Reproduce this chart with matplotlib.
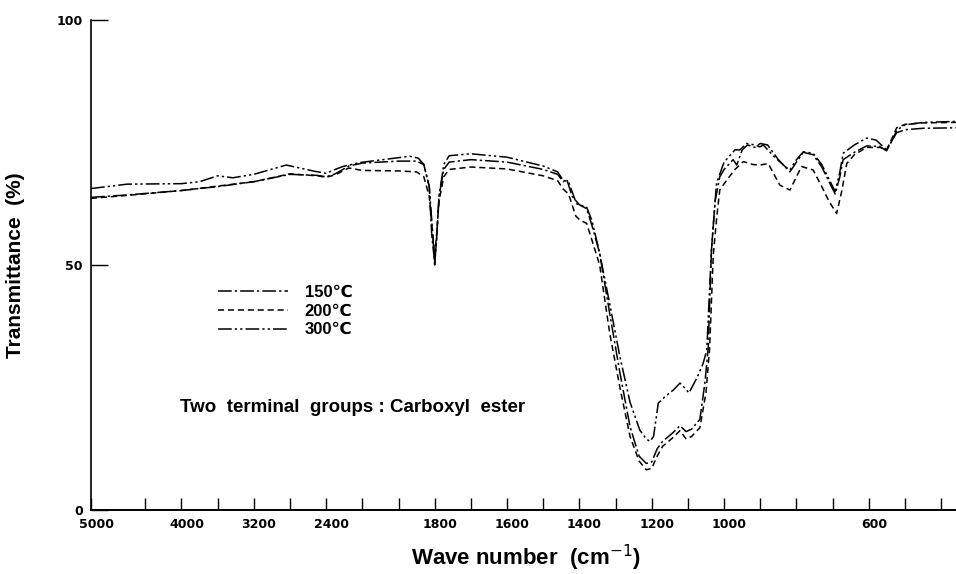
import numpy as np
import matplotlib
matplotlib.use("Agg")
import matplotlib.pyplot as plt
import matplotlib.transforms as mtransforms
from matplotlib.ticker import FixedLocator

# spectra: wave number (cm-1) / transmittance (%)
wn_150 = [5000, 4600, 4000, 3600, 3200, 2800, 2500, 2400, 2300, 2150, 2000, 1900,
          1850, 1830, 1815, 1808, 1800, 1795, 1788, 1775, 1760, 1700, 1600, 1500,
          1460, 1445, 1435, 1420, 1400, 1380, 1365, 1344, 1316, 1288, 1260, 1235,
          1215, 1200, 1185, 1170, 1141, 1122, 1105, 1090, 1067, 1053, 1044, 1035,
          1025, 1012, 1000, 975, 965, 950, 935, 915, 900, 880, 850, 818, 800, 781,
          754, 730, 710, 693, 680, 671, 640, 606, 570, 551, 535, 523, 500, 450, 359]
t_150 = [63.8, 64.3, 65.2, 66.0, 67.0, 68.5, 68.3, 68.0, 68.6, 70.2, 70.8, 71.2,
         71.2, 70.5, 66.0, 56.0, 50.5, 55.0, 64.0, 69.5, 71.0, 71.5, 71.0, 69.5,
         68.5, 67.0, 67.5, 64.0, 62.3, 61.5, 58.0, 52.4, 40.0, 28.0, 17.0, 11.0,
         9.5, 9.8, 12.5, 14.0, 15.8, 17.2, 16.0, 16.5, 18.5, 26.0, 33.0, 53.0,
         63.0, 68.0, 69.5, 71.5, 70.4, 73.5, 74.5, 74.0, 74.8, 74.5, 71.5, 69.0, 71.0, 73.0,
         72.5, 70.0, 67.0, 64.5, 68.0, 71.5, 73.0, 74.3, 74.2, 73.3, 75.5, 77.0, 77.6, 77.9, 78.0]

wn_200 = [5000, 4600, 4000, 3600, 3200, 2800, 2500, 2400, 2300, 2150, 2000, 1900,
          1850, 1830, 1815, 1805, 1800, 1795, 1788, 1775, 1760, 1700, 1600, 1500,
          1460, 1445, 1430, 1410, 1399, 1380, 1365, 1344, 1316, 1288, 1260, 1235,
          1215, 1200, 1185, 1170, 1141, 1122, 1105, 1090, 1067, 1050, 1040, 1030,
          1020, 1012, 993, 970, 947, 920, 901, 878, 846, 818, 800, 786, 754, 730,
          710, 689, 675, 661, 640, 606, 570, 551, 535, 523, 500, 450, 359]
t_200 = [63.6, 64.2, 65.2, 66.1, 67.0, 68.6, 68.2, 67.9, 68.4, 69.8, 69.3, 69.2,
         69.0, 68.0, 64.0, 56.0, 52.0, 56.0, 63.0, 68.0, 69.5, 70.0, 69.6, 68.2,
         67.2, 65.5, 64.5, 60.0, 59.2, 58.5, 55.0, 50.0, 36.0, 25.0, 15.0, 10.0,
         8.2, 8.5, 11.0, 13.0, 14.8, 16.2, 14.5, 15.0, 16.8, 24.0, 33.0, 52.0,
         60.0, 65.3, 67.3, 69.5, 71.1, 70.5, 70.4, 70.7, 66.3, 65.3, 68.0, 70.1, 69.4, 66.0,
         63.0, 60.5, 65.0, 70.7, 72.5, 74.0, 74.0, 73.5, 76.0, 78.0, 78.7, 79.0, 79.1]

wn_300 = [5000, 4600, 4000, 3800, 3600, 3432, 3200, 2841, 2547, 2400, 2300, 2215,
          2030, 1900, 1869, 1845, 1830, 1815, 1806, 1800, 1795, 1788, 1775, 1760,
          1700, 1600, 1500, 1460, 1445, 1430, 1408, 1380, 1365, 1344, 1316, 1288,
          1260, 1233, 1215, 1205, 1195, 1182, 1164, 1140, 1122, 1110, 1097, 1075,
          1058, 1048, 1035, 1021, 1000, 970, 956, 938, 915, 901, 892, 860, 830,
          818, 800, 781, 754, 730, 710, 693, 680, 671, 640, 606, 580, 551, 535,
          523, 500, 450, 359]
t_300 = [65.6, 66.5, 66.6, 67.0, 68.2, 67.8, 68.5, 70.4, 69.2, 68.7, 69.5, 70.1,
         70.9, 71.9, 72.2, 71.8, 70.5, 66.0, 57.0, 50.0, 55.0, 64.0, 70.5, 72.3,
         72.7, 72.0, 70.2, 69.0, 67.3, 67.0, 62.5, 61.8, 59.0, 52.4, 42.0, 31.3,
         22.0, 16.3, 14.5, 14.0, 15.0, 21.8, 23.1, 24.5, 25.9, 25.0, 23.9, 27.0,
         29.9, 32.6, 53.0, 66.7, 71.0, 73.5, 73.5, 74.8, 74.5, 74.1, 74.5, 72.0, 70.0,
         69.4, 71.5, 73.1, 72.8, 70.5, 67.5, 65.0, 69.0, 72.8, 74.5, 75.9, 75.5, 73.5, 75.5,
         77.5, 78.6, 79.1, 79.3]

labels = ["150\u2103", "200\u2103", "300\u2103"]
major_ticks = [5000, 4000, 3200, 2400, 1800, 1600, 1400, 1200, 1000, 600]
minor_ticks = [4400, 3600, 2800, 2000, 1900, 1700, 1500, 1300, 1100, 900, 800, 700, 500, 400]


# chart paper: above 2000 cm-1 the scale is compressed 4x
def fwd(w):
    w = np.asarray(w, dtype=float)
    return np.where(w <= 2000, w - 2000, (w - 2000) / 4.0)


def inv(u):
    u = np.asarray(u, dtype=float)
    return np.where(u <= 0, 2000 + u, 2000 + 4.0 * u)


fig = plt.figure(figsize=(9.56, 5.74), dpi=100)
ax = fig.add_axes([91 / 956, 64 / 574, 865 / 956, 490 / 574])

ax.plot(wn_150, t_150, color="black", lw=1.1, dashes=(9, 2, 1.5, 2), label=labels[0])
ax.plot(wn_200, t_200, color="black", lw=1.1, dashes=(4, 2.5), label=labels[1])
ax.plot(wn_300, t_300, color="black", lw=1.1, dashes=(9, 2, 1.5, 2, 1.5, 2), label=labels[2])

ax.set_xscale("function", functions=(fwd, inv))
ax.set_xlim(5000, 359)
ax.set_ylim(0, 100)

ax.xaxis.set_major_locator(FixedLocator(major_ticks))
ax.xaxis.set_minor_locator(FixedLocator(minor_ticks))
ax.set_xticklabels([str(t) for t in major_ticks])
ax.set_yticks([0, 50, 100])
ax.set_yticklabels(["0", "50", "100"])

ax.tick_params(axis="x", which="both", direction="in", length=9, width=1, pad=6)
ax.tick_params(axis="y", direction="in", length=12, width=1, pad=6)
for lab in ax.get_xticklabels() + ax.get_yticklabels():
    lab.set_fontweight("bold")
    lab.set_fontsize(9)
offset = mtransforms.ScaledTranslation(0.05, 0, fig.dpi_scale_trans)
for lab in ax.get_xticklabels():
    lab.set_transform(lab.get_transform() + offset)

for s in ["top", "right"]:
    ax.spines[s].set_visible(False)
ax.spines["left"].set_linewidth(1.2)
ax.spines["bottom"].set_linewidth(1.4)

fam = ["Liberation Sans", "DejaVu Sans"]
ax.set_xlabel(r"Wave number  (cm$^{-1}$)", fontsize=16, fontweight="bold", family=fam)
ax.xaxis.set_label_coords(0.503, -0.066)
ax.set_ylabel("Transmittance  (%)", fontsize=15, fontweight="bold", family=fam)
ax.yaxis.set_label_coords(-0.076, 0.5)

leg = ax.legend(loc="upper left", bbox_to_anchor=(218 / 956, 1 - 285 / 574),
                bbox_transform=fig.transFigure, frameon=False, handlelength=4.2,
                handletextpad=1.0, labelspacing=0.22, borderpad=0, borderaxespad=0,
                prop={"family": fam, "weight": "bold", "size": 12})

fig.text(180 / 956, 1 - 407 / 574, "Two  terminal  groups : Carboxyl  ester",
         fontsize=13.5, fontweight="bold", family=fam, va="center", ha="left")

fig.savefig("out.png", dpi=100)
